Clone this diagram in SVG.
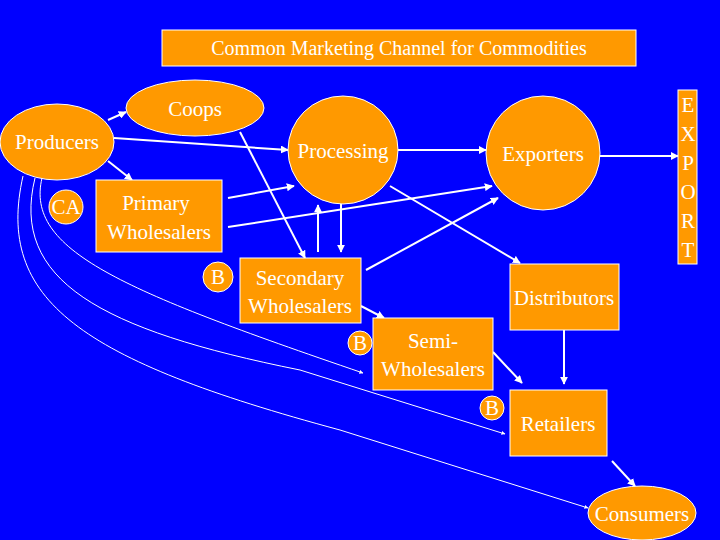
<svg xmlns="http://www.w3.org/2000/svg" width="720" height="540" viewBox="0 0 720 540">
<defs>
<marker id="a" viewBox="0 0 10 10" refX="9" refY="5" markerWidth="4" markerHeight="4" orient="auto"><path d="M0,0 L10,5 L0,10 z" fill="#fff"/></marker>
<style>
.n{fill:#ff9900;stroke:#fff;stroke-width:1}
.t{font-family:"Liberation Serif",serif;font-size:21px;fill:#fff;text-anchor:middle}
.c line,.c path{stroke:#fff;stroke-width:2;fill:none;marker-end:url(#a)}
.c .thin{stroke-width:1}
</style>
</defs>
<rect width="720" height="540" fill="#0000ff"/>
<g id="title"><rect class="n" x="162" y="30" width="474" height="36"/><text class="t" x="399" y="55" style="font-size:20px">Common Marketing Channel for Commodities</text></g>
<g class="c">
<line x1="108" y1="120" x2="126" y2="112"/>
<line x1="114" y1="138" x2="288" y2="150"/>
<line x1="108" y1="161" x2="132" y2="180"/>
<line x1="240" y1="132" x2="305" y2="258"/>
<line x1="228" y1="198" x2="294" y2="186"/>
<line x1="228" y1="227" x2="492" y2="186"/>
<line x1="318" y1="252" x2="318" y2="205"/>
<line x1="341" y1="204" x2="341" y2="252"/>
<line x1="396" y1="150" x2="486" y2="150"/>
<line x1="600" y1="156" x2="678" y2="156"/>
<line x1="390" y1="186" x2="520" y2="263"/>
<line x1="366" y1="270" x2="498" y2="198"/>
<line x1="361" y1="306" x2="384" y2="318"/>
<line x1="493" y1="352" x2="522" y2="383"/>
<line x1="564" y1="330" x2="564" y2="384"/>
<line x1="612" y1="461" x2="635" y2="486"/>
<path class="thin" d="M23,176 C-5,300 80,360 340,430 L588,508"/>
<path class="thin" d="M35,178 C10,280 100,330 300,370 L505,434"/>
<path class="thin" d="M42,178 C25,250 120,290 363,373"/>
</g>
<g id="coops"><ellipse class="n" cx="195" cy="108" rx="69" ry="28"/><text class="t" x="195" y="116">Coops</text></g>
<g id="producers"><ellipse class="n" cx="57" cy="142" rx="57" ry="38"/><text class="t" x="57" y="149">Producers</text></g>
<g id="processing"><ellipse class="n" cx="343" cy="150" rx="55" ry="54"/><text class="t" x="343" y="158">Processing</text></g>
<g id="exporters"><circle class="n" cx="543" cy="153" r="57"/><text class="t" x="543" y="161">Exporters</text></g>
<g id="export"><rect class="n" x="678" y="90" width="19" height="174"/>
<text class="t" x="688" y="112">E</text><text class="t" x="688" y="141">X</text><text class="t" x="688" y="170">P</text><text class="t" x="688" y="199">O</text><text class="t" x="688" y="228">R</text><text class="t" x="688" y="257">T</text></g>
<g id="ca"><circle class="n" cx="66" cy="207" r="17"/><text class="t" x="66" y="214">CA</text></g>
<g id="primary"><rect class="n" x="96" y="180" width="126" height="72"/><text class="t" x="156" y="210">Primary</text><text class="t" x="159" y="239">Wholesalers</text></g>
<g id="b1"><circle class="n" cx="218" cy="277" r="15"/><text class="t" x="218" y="284">B</text></g>
<g id="secondary"><rect class="n" x="240" y="258" width="121" height="65"/><text class="t" x="300" y="285">Secondary</text><text class="t" x="300" y="313">Wholesalers</text></g>
<g id="b2"><circle class="n" cx="360" cy="343" r="12"/><text class="t" x="360" y="350">B</text></g>
<g id="semi"><rect class="n" x="373" y="318" width="120" height="72"/><text class="t" x="433" y="348">Semi-</text><text class="t" x="433" y="376">Wholesalers</text></g>
<g id="distributors"><rect class="n" x="510" y="264" width="109" height="66"/><text class="t" x="564" y="305">Distributors</text></g>
<g id="b3"><circle class="n" cx="492" cy="408" r="12"/><text class="t" x="492" y="415">B</text></g>
<g id="retailers"><rect class="n" x="510" y="390" width="97" height="66"/><text class="t" x="558" y="431">Retailers</text></g>
<g id="consumers"><ellipse class="n" cx="642" cy="513" rx="54" ry="27"/><text class="t" x="642" y="521">Consumers</text></g>
</svg>
